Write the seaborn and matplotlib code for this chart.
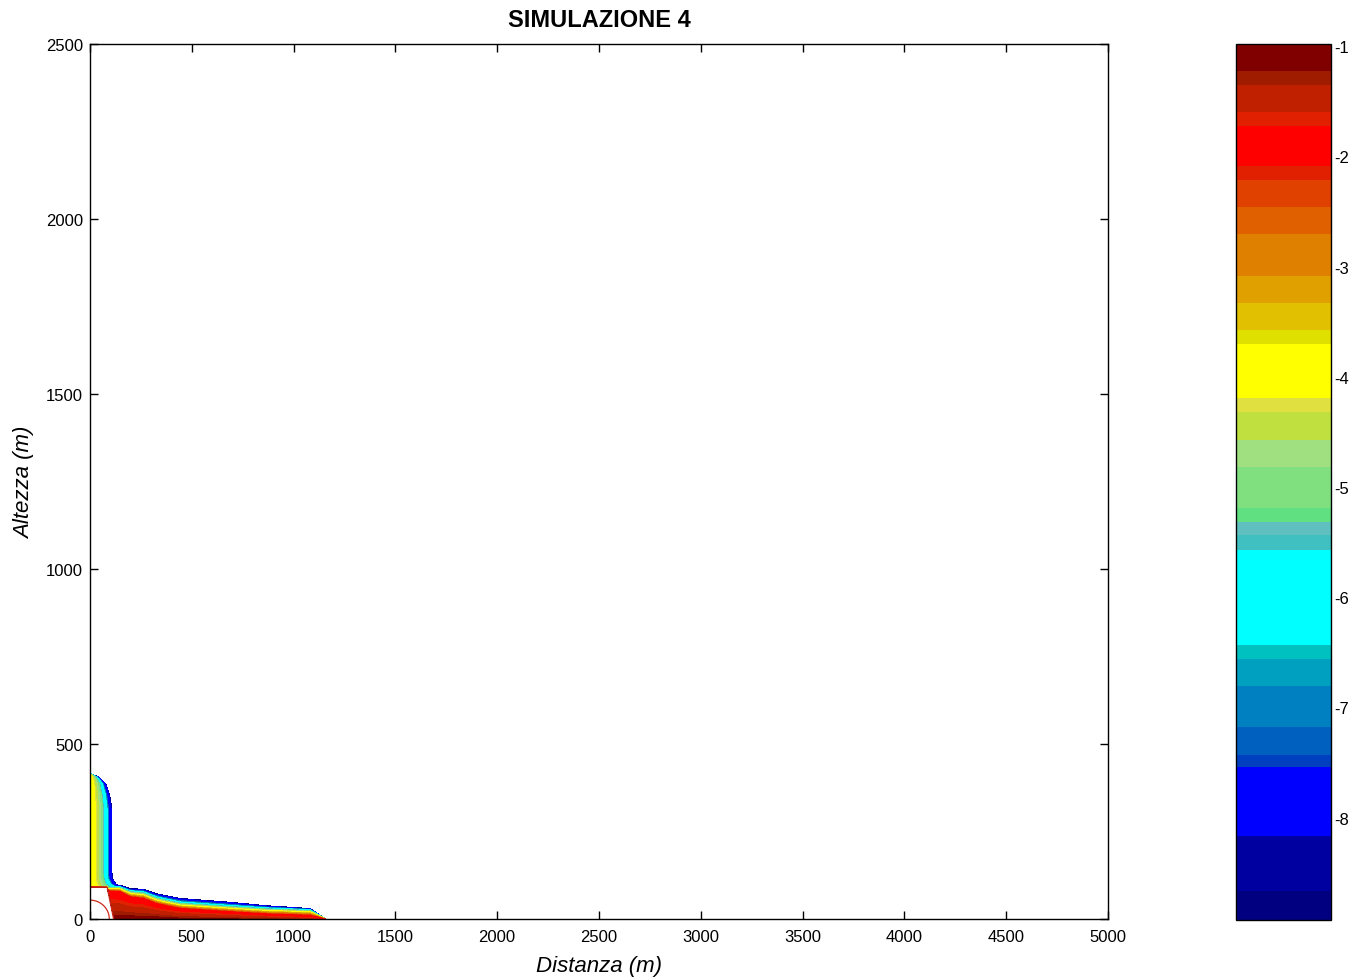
import numpy as np
import matplotlib
matplotlib.use("Agg")
import matplotlib.pyplot as plt
import seaborn as sns

# ---------------------------------------------------------------------------
# Colour scale: log10 concentration bands (low -> high) and their colours
# ---------------------------------------------------------------------------
level_bounds = [-8.93, -8.67, -8.17, -7.54, -7.43, -7.18, -6.81, -6.56, -6.43,
                -5.57, -5.44, -5.32, -5.19, -4.815, -4.57, -4.32, -4.19, -3.70,
                -3.58, -3.33, -3.085, -2.707, -2.46, -2.218, -2.09, -1.725,
                -1.598, -1.354, -1.227, -0.98]
band_colors = ["#000080", "#0000a0", "#0000ff", "#0040c0", "#0060c0", "#0080c0",
               "#00a0c0", "#00c0c0", "#00ffff", "#40c0c0", "#60c0c0", "#60e080",
               "#80e080", "#a0e080", "#c0e040", "#e0e040", "#ffff00", "#e0e000",
               "#e0c000", "#e0a000", "#e08000", "#e06000", "#e04000", "#e02000",
               "#ff0000", "#e02000", "#c02000", "#a01c00", "#800000"]
cbar_ticks = [-8, -7, -6, -5, -4, -3, -2, -1]

# ---------------------------------------------------------------------------
# Gravity current along the ground: outer edge height (m) and where the
# -2, -4, -6 iso-levels sit as a fraction of that height
# ---------------------------------------------------------------------------
ground_x = [0, 147, 196, 262, 327, 442, 687, 868, 1080, 1097, 1160]
ground_top = [97, 97, 87, 85, 72, 59, 48, 38, 30, 24, 0]
ground_base = [-1.1, -1.1, -1.1, -1.1, -1.1, -1.15, -1.2, -1.3, -1.5, -1.6, -2.0]
ground_f2 = [0.85, 0.80, 0.72, 0.68, 0.60, 0.50, 0.42, 0.36, 0.32, 0.31, 0.30]
ground_f4 = [0.90, 0.88, 0.83, 0.80, 0.74, 0.66, 0.62, 0.62, 0.66, 0.66, 0.66]
ground_f6 = [0.94, 0.94, 0.92, 0.90, 0.86, 0.80, 0.78, 0.81, 0.86, 0.86, 0.86]

# ---------------------------------------------------------------------------
# Rising column next to the left boundary: half width (m) against height (m)
# and the profile across it (fraction of width -> log10 concentration)
# ---------------------------------------------------------------------------
column_y = [92, 100, 114, 134, 314, 352, 386, 405, 414, 417]
column_w = [155, 128, 112, 108, 108, 98, 79, 46, 10, 0]
column_r = [0, 0.25, 0.55, 0.62, 0.78, 0.84, 0.97, 1.0, 1.06]
column_v = [-3.8, -4.2, -5.0, -5.6, -6.4, -7.5, -8.2, -8.93, -12.0]

# Source zone at the origin (above the top band, left unfilled)
source_top = 92
source_right = [117, 85]      # right edge at the ground and at the top (m)
source_arc = [95, 54]         # semi-axes of the inner iso-line (m)

# ---------------------------------------------------------------------------
# Build the field on a fine grid
# ---------------------------------------------------------------------------
xg = np.linspace(0, 1300, 651)
yg = np.linspace(0, 450, 451)
X, Y = np.meshgrid(xg, yg)

H = np.interp(xg, ground_x, ground_top, right=0.0)
v0 = np.interp(xg, ground_x, ground_base)
f2 = np.interp(xg, ground_x, ground_f2)
f4 = np.interp(xg, ground_x, ground_f4)
f6 = np.interp(xg, ground_x, ground_f6)

G = np.full(X.shape, -20.0)
for i in range(len(xg)):
    if H[i] <= 0.3:
        continue
    s = yg / H[i]
    knots = [0, f2[i], f4[i], f6[i], f6[i] + 0.45 * (1 - f6[i]), 0.978, 1.0, 1.08]
    vals = [v0[i], -2.0, -4.0, -6.0, -7.5, -8.2, -8.93, -12.0]
    G[:, i] = np.interp(s, knots, vals)

C = np.full(X.shape, -20.0)
for j, yy in enumerate(yg):
    if yy < column_y[0] or yy > column_y[-1]:
        continue
    w = np.interp(yy, column_y, column_w)
    if w <= 0.5:
        continue
    C[j, :] = np.interp(xg / w, column_r, column_v)

F = np.maximum(G, C)

box_edge = source_right[0] + (source_right[1] - source_right[0]) * Y / source_top
box = (Y < source_top) & (X < box_edge)
r_e = np.sqrt((X / source_arc[0]) ** 2 + (Y / source_arc[1]) ** 2)
F[box] = np.maximum(-0.6, 0.45 - r_e[box])

# ---------------------------------------------------------------------------
# Figure
# ---------------------------------------------------------------------------
sns.set_theme(style="white")
plt.rcParams["font.family"] = ["Liberation Sans", "DejaVu Sans"]
plt.rcParams["text.color"] = "black"
plt.rcParams["axes.labelcolor"] = "black"
plt.rcParams["xtick.color"] = "black"
plt.rcParams["ytick.color"] = "black"

fig = plt.figure(figsize=(13.67, 9.78), dpi=100)
ax = fig.add_axes([0.0658, 0.0593, 0.7447, 0.8947])
cax = fig.add_axes([0.9042, 0.0583, 0.0695, 0.8957])

cf = ax.contourf(X, Y, F, levels=level_bounds, colors=band_colors)
ax.contour(X, Y, F, levels=[-0.75, -0.55], colors="#cc2a1a",
           linewidths=0.9, linestyles="solid")

ax.set_xlim(0, 5000)
ax.set_ylim(0, 2500)
ax.set_xticks(np.arange(0, 5001, 500))
ax.set_yticks(np.arange(0, 2501, 500))
ax.tick_params(axis="x", pad=7)
ax.tick_params(axis="y", pad=5)
ax.tick_params(direction="in", length=6, width=1, colors="black",
               top=True, right=True, bottom=True, left=True, labelsize=12)
for sp in ax.spines.values():
    sp.set_color("black")
    sp.set_linewidth(1)
ax.set_facecolor("white")

ax.set_title("SIMULAZIONE 4", fontsize=17, fontweight="bold", pad=13,
             color="black")
ax.set_xlabel("Distanza (m)", fontsize=16, fontstyle="italic", labelpad=8)
ax.set_ylabel("Altezza (m)", fontsize=16, fontstyle="italic", labelpad=8)

cb = fig.colorbar(cf, cax=cax, spacing="proportional")
cb.set_ticks(cbar_ticks)
cb.set_ticklabels([str(t) for t in cbar_ticks])
cb.ax.set_ylim(level_bounds[0], level_bounds[-1])
cb.ax.tick_params(direction="in", length=6, width=1, colors="black",
                  left=True, right=True, labelsize=12, pad=2)
cb.outline.set_edgecolor("black")
cb.outline.set_linewidth(1)

fig.savefig("out.png", dpi=100, facecolor="white")
